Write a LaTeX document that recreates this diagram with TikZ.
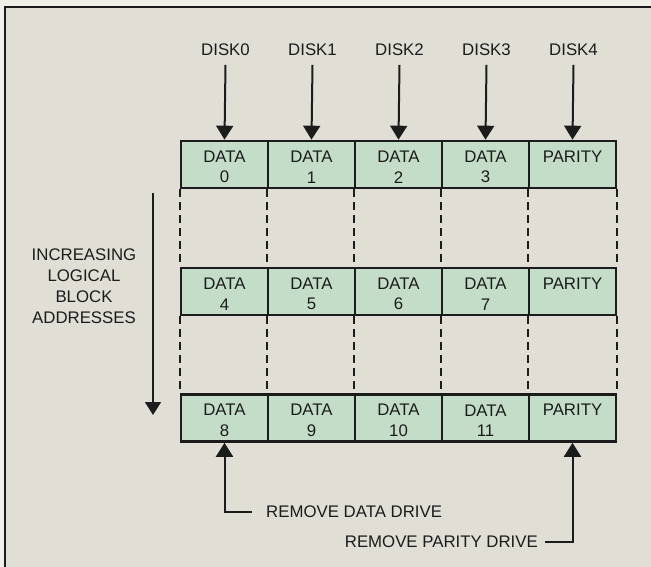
\documentclass[tikz,border=0pt]{standalone}
\usepackage{fontspec}
\setmainfont{Liberation Sans}
\usetikzlibrary{arrows.meta}
\definecolor{paper}{RGB}{241,238,231}
\definecolor{panel}{RGB}{225,222,214}
\definecolor{cellgreen}{RGB}{196,221,200}
\definecolor{ink}{RGB}{28,28,28}
\begin{document}
\begin{tikzpicture}[x=1pt,y=-1pt,
  cell/.style={draw=ink, fill=cellgreen, line width=2.6pt, minimum width=87pt, minimum height=47pt,
    inner sep=0pt},
  lbl/.style={font=\fontsize{16.8}{21}\selectfont, text=ink, inner sep=0pt, align=center},
  celltext/.style={font=\fontsize{16.8}{20.5}\selectfont, text=ink, inner sep=0pt, align=center},
  arr/.style={draw=ink, line width=2pt, -{Triangle[length=14pt,width=17pt]}},
  thinarr/.style={draw=ink, line width=1.6pt, -{Triangle[length=13pt,width=16pt]}},
  dashline/.style={draw=ink, line width=1.8pt, dash pattern=on 8pt off 5pt}]
\useasboundingbox (0,0) rectangle (651,567);
\fill[paper] (0,0) rectangle (651,567);
\draw[ink, line width=1.3pt, fill=panel] (5,7) rectangle (665,585);

% cells
\foreach \r/\y in {0/164.5, 1/291.5, 2/418}{
  \foreach \c in {0,...,3}{
    \pgfmathtruncatemacro{\n}{4*\r+\c}
    \node[cell, label={[celltext, yshift=-2.5pt]center:DATA\\\n}] (r\r c\c) at (224.5+87*\c, \y) {};
  }
  \node[cell, label={[celltext, yshift=-2.5pt]center:PARITY\\\phantom{0}}] (r\r c4) at (572.5, \y) {};
}

% dashed connectors between rows
\foreach \a/\b in {0/1, 1/2}{
  \foreach \c in {0,...,4}{
    \draw[dashline] (r\a c\c.south west) -- (r\b c\c.north west);
  }
  \draw[dashline] (r\a c4.south east) -- (r\b c4.north east);
}

% disk labels and arrows
\foreach \c in {0,...,4}{
  \node[lbl] (d\c) at (225.5+87*\c, 50) {DISK\c};
  \draw[arr] ([yshift=-9pt]d\c.base) -- (r0c\c.north);
}

% increasing LBA arrow
\coordinate (la1) at (153,193);
\coordinate (la2) at (153,415);
\draw[thinarr] (la1) -- (la2);
\node[lbl] (lba) at (84,286) {INCREASING\\LOGICAL\\BLOCK\\ADDRESSES};

% remove drive annotations
\node[lbl, anchor=west] (rdd) at (266,512) {REMOVE DATA DRIVE};
\coordinate (k1) at (252,512);
\draw[arr] (k1) -| (r2c0.south);
\node[lbl, anchor=east] (rpd) at (538,542) {REMOVE PARITY DRIVE};
\coordinate (k2) at (545,542);
\draw[arr] (k2) -| (r2c4.south);
\end{tikzpicture}
\end{document}
